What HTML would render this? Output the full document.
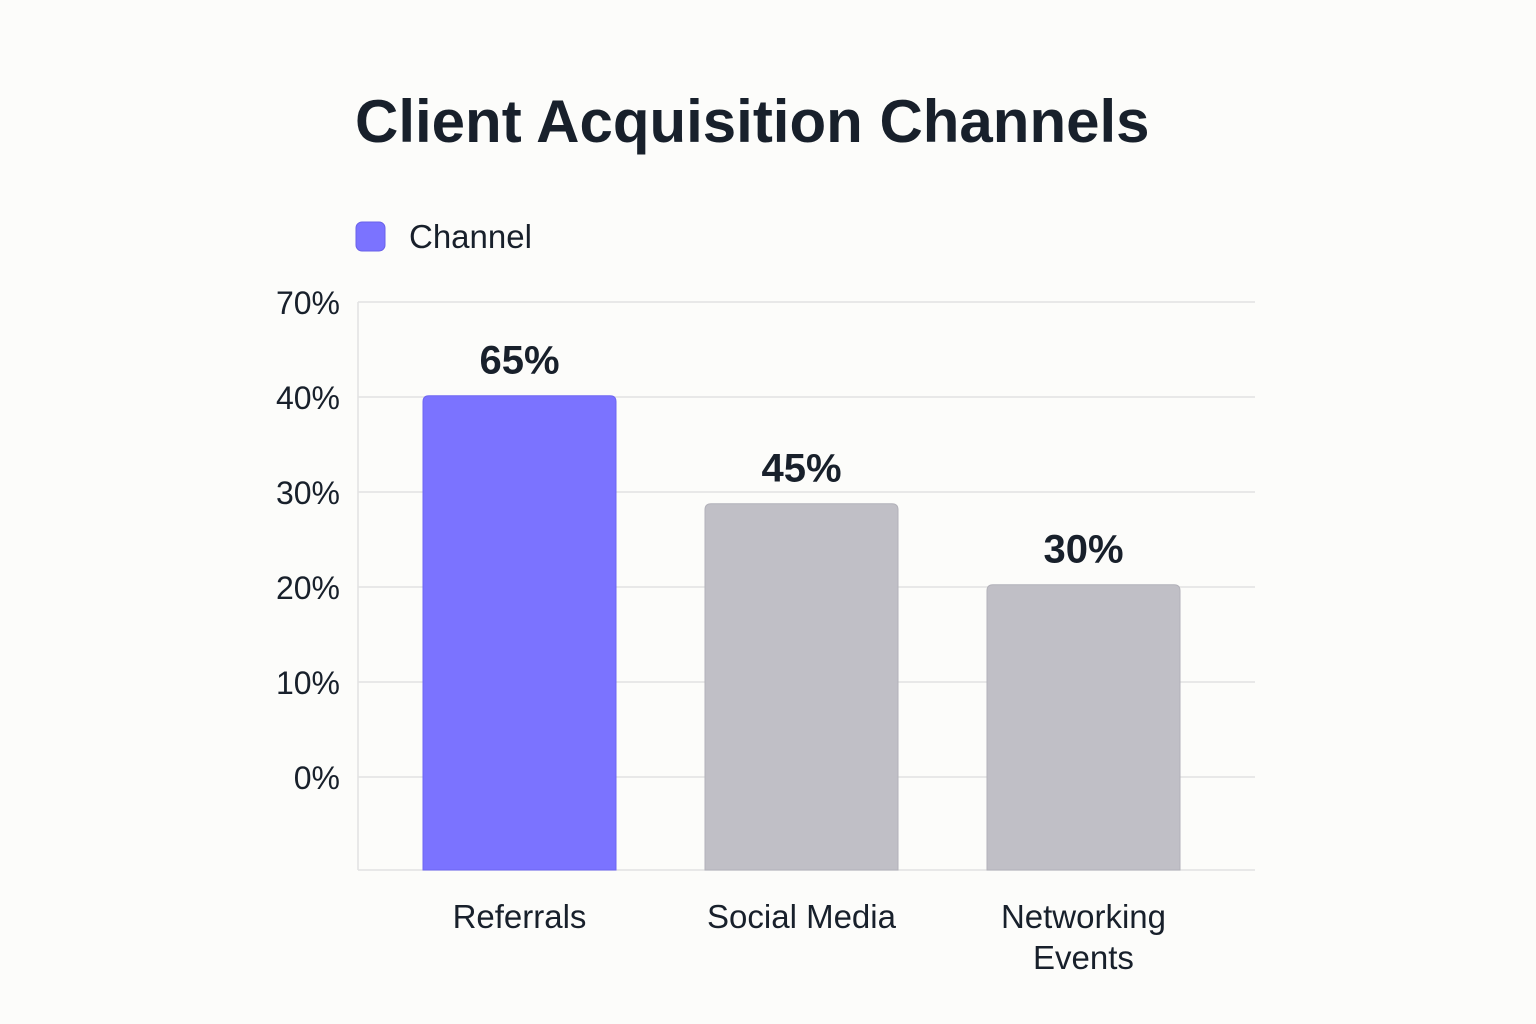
<!DOCTYPE html>
<html>
<head>
<meta charset="utf-8">
<style>
  html,body{margin:0;padding:0;background:#FCFCFA;}
  svg{display:block;font-family:"Liberation Sans",sans-serif;}
</style>
</head>
<body>
<svg id="chart" width="1536" height="1024" viewBox="0 0 1536 1024">
  <rect x="0" y="0" width="1536" height="1024" fill="#FCFCFA"/>
  <text x="355" y="142" font-size="60" font-weight="600" fill="#18202B">Client Acquisition Channels</text>
  <g>
    <rect x="356" y="222" width="29" height="29" rx="6" fill="#7B73FF" stroke="#6A62E8" stroke-width="1"/>
    <text x="409" y="248" font-size="33" fill="#18202B">Channel</text>
  </g>
  <g id="grid"></g>
  <g id="bars"></g>
  <g id="labels"></g>
</svg>
<script>
const categories = ["Referrals", "Social Media", "Networking Events"];
const values = [65, 45, 30];
const valueLabels = ["65%", "45%", "30%"];
const highlight = [true, false, false];
const tickLabels = ["0%", "10%", "20%", "30%", "40%", "70%"];

const NS = "http://www.w3.org/2000/svg";
const plotLeft = 358, plotRight = 1255, baseline = 870;
const tickBottom = 777, tickStep = 95;
const bandStep = 282, bandStart = 519.5, barWidth = 193;

function yScale(v) { return 746.7 - 5.4 * v; }
function tickY(i) { return tickBottom - i * tickStep; }
function xCenter(i) { return bandStart + i * bandStep; }

function mk(tag, attrs, parent) {
  const el = document.createElementNS(NS, tag);
  for (const k in attrs) el.setAttribute(k, attrs[k]);
  parent.appendChild(el);
  return el;
}

const grid = document.getElementById("grid");
const bars = document.getElementById("bars");
const labels = document.getElementById("labels");

// baseline
const base = mk("line", {x1: plotLeft, x2: plotRight, y1: baseline, y2: baseline, stroke: "#E2E2E2", "stroke-width": 1.5}, grid);


const yAxis = mk("line", {x1: plotLeft, x2: plotLeft, y1: tickY(tickLabels.length - 1), y2: baseline, stroke: "#E2E2E2", "stroke-width": 1.5}, grid);



tickLabels.forEach((t, i) => {
  const y = tickY(i);
  const gl = mk("line", {x1: plotLeft, x2: plotRight, y1: y, y2: y, stroke: "#E2E2E2", "stroke-width": 1.5}, grid);
  
  
  const tl = mk("text", {x: 340, y: y + 12, "text-anchor": "end", "font-size": 32, fill: "#18202B"}, labels);
  tl.textContent = t;
  
  
});

categories.forEach((c, i) => {
  const cx = xCenter(i);
  const top = yScale(values[i]);
  const bar = mk("path", {
    d: `M${cx - barWidth/2},${baseline} L${cx - barWidth/2},${top + 6} Q${cx - barWidth/2},${top} ${cx - barWidth/2 + 6},${top} L${cx + barWidth/2 - 6},${top} Q${cx + barWidth/2},${top} ${cx + barWidth/2},${top + 6} L${cx + barWidth/2},${baseline} Z`,
    fill: highlight[i] ? "#7B73FF" : "#C0BFC6",
    stroke: highlight[i] ? "#6E66F2" : "#B2B1B9", "stroke-width": 1
  }, bars);
  
  

  const vl = mk("text", {x: cx, y: top - 22, "text-anchor": "middle", "font-size": 40, "font-weight": 600, fill: "#18202B"}, labels);
  vl.textContent = valueLabels[i];
  
  

  const words = c === "Networking Events" ? ["Networking", "Events"] : [c];
  words.forEach((w, j) => {
    const cl = mk("text", {x: cx, y: 928 + j * 41, "text-anchor": "middle", "font-size": 33, fill: "#18202B"}, labels);
    cl.textContent = w;
    
    
  });
});
</script>
</body>
</html>
